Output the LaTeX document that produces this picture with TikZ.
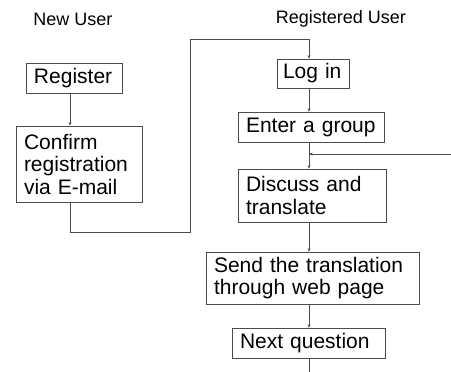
\documentclass[tikz,border=0pt]{standalone}
\usepackage{fontspec}
\setmainfont{Liberation Sans}
\usetikzlibrary{arrows.meta}
\begin{document}
\begin{tikzpicture}[x=1pt,y=-1pt,
  box/.style={draw=black!70, line width=0.8pt, fill=white, inner ysep=0pt, inner xsep=8pt,
    align=left, text width=#1-16pt, minimum width=#1,
    font=\fontsize{21}{22.5}\selectfont},
  head/.style={font=\fontsize{18}{20}\selectfont},
  line/.style={draw=black!70, line width=0.8pt},
  arr/.style={line, -{Stealth[length=3.5pt,width=3pt]}}]
\useasboundingbox (0,0) rectangle (451,372);
\coordinate (lx) at (70,0);
\coordinate (rx) at (309,0);
\node[head] (hnew) at (73,19) {New User};
\node[head] (hreg) at (341,19) {Registered User};
\node[box=96pt, minimum height=30pt] (reg) at (74,78) {Register};
\node[box=126pt, minimum height=76pt] (conf) at (79,164) {Confirm\\registration\\via E-mail};
\node[box=72pt, inner xsep=6pt, text width=60pt, minimum height=29pt] (login) at (313,73.5) {Log in};
\node[box=146pt, minimum height=30pt] (enter) at (311,127) {Enter a group};
\node[box=148pt, minimum height=53pt] (disc) at (312,195.5) {Discuss and\\translate};
\node[box=213pt, minimum height=52pt] (send) at (312.5,278) {Send the translation\\through web page};
\node[box=153pt, minimum height=30pt] (next) at (308.5,343) {Next question};
\coordinate (c1) at (70,232);
\coordinate (c2) at (190,232);
\coordinate (c3) at (190,39);
\coordinate (c4) at (309,39);
\coordinate (j) at (309,154);
\coordinate (rin) at (451,154);
\coordinate (bot) at (309,372);
\draw[arr] (reg.south -| lx) -- (conf.north -| lx);
\draw[arr] (conf.south -| lx) -- (c1) -- (c2) -- (c3) -- (c4) -- (login.north -| rx);
\draw[arr] (login.south -| rx) -- (enter.north -| rx);
\draw[arr] (enter.south -| rx) -- (disc.north -| rx);
\draw[arr] (rin) -- (j);
\draw[arr] (disc.south -| rx) -- (send.north -| rx);
\draw[arr] (send.south -| rx) -- (next.north -| rx);
\draw[line] (next.south -| rx) -- (bot);
\end{tikzpicture}
\end{document}
